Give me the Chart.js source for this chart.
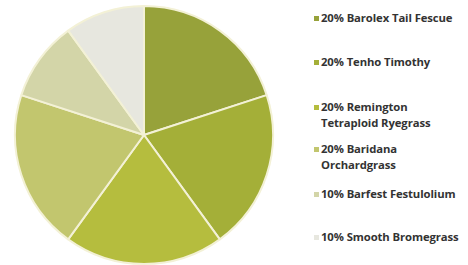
<!DOCTYPE html>
<html>
<head>
<meta charset="utf-8">
<script src="https://cdn.jsdelivr.net/npm/chart.js@4"></script>
<style>
  body { margin: 0; background: #fff; width: 468px; height: 265px; overflow: hidden; position: relative; }
  #pieBox { position: absolute; left: 13px; top: 5px; width: 262px; height: 260px; }
  #legend { position: absolute; left: 0; top: 0; }
  .item { position: absolute; left: 314px; font-family: "Open Sans", sans-serif; font-weight: 700;
          font-size: 11.3px; line-height: 16px; color: #333; white-space: nowrap; letter-spacing: -0.1px; }
  .item i { position: absolute; left: 0; top: 6px; width: 5px; height: 5px; }
  .item span { display: block; padding-left: 7px; }
</style>
</head>
<body>
<div id="pieBox"><canvas id="pie"></canvas></div>
<div id="legend"></div>
<script>
const labels = [
    ["20% Barolex Tail Fescue"],
    ["20% Tenho Timothy"],
    ["20% Remington", "Tetraploid Ryegrass"],
    ["20% Baridana", "Orchardgrass"],
    ["10% Barfest Festulolium"],
    ["10% Smooth Bromegrass"]
];
const shares = [20, 20, 20, 20, 10, 10];
const colors = ["#97a23a", "#a4af38", "#b5bd3e", "#c2c66e", "#d3d5a8", "#e7e7df"];

// top of each legend entry, px
const legendTops = [10, 54, 99, 141, 186, 229];

let legendDiv = document.getElementById("legend");
labels.forEach((lines, i) => {
    let item = document.createElement("div");
    item.className = "item";
    item.style.top = legendTops[i] + "px";
    item.innerHTML = "<i style='background:" + colors[i] + "'></i><span>" + lines.join("<br>") + "</span>";
    legendDiv.appendChild(item);
});

new Chart(document.getElementById("pie"), {
    type: "pie",
    data: {
        labels: labels.map(l => l.join(" ")),
        datasets: [{
            data: shares,
            backgroundColor: colors,
            borderColor: "#f3f1d6",
            borderWidth: 2
        }]
    },
    options: {
        responsive: true,
        maintainAspectRatio: false,
        animation: false,
        plugins: {
            legend: { display: false },
            tooltip: { enabled: false }
        }
    }
});
</script>
</body>
</html>
